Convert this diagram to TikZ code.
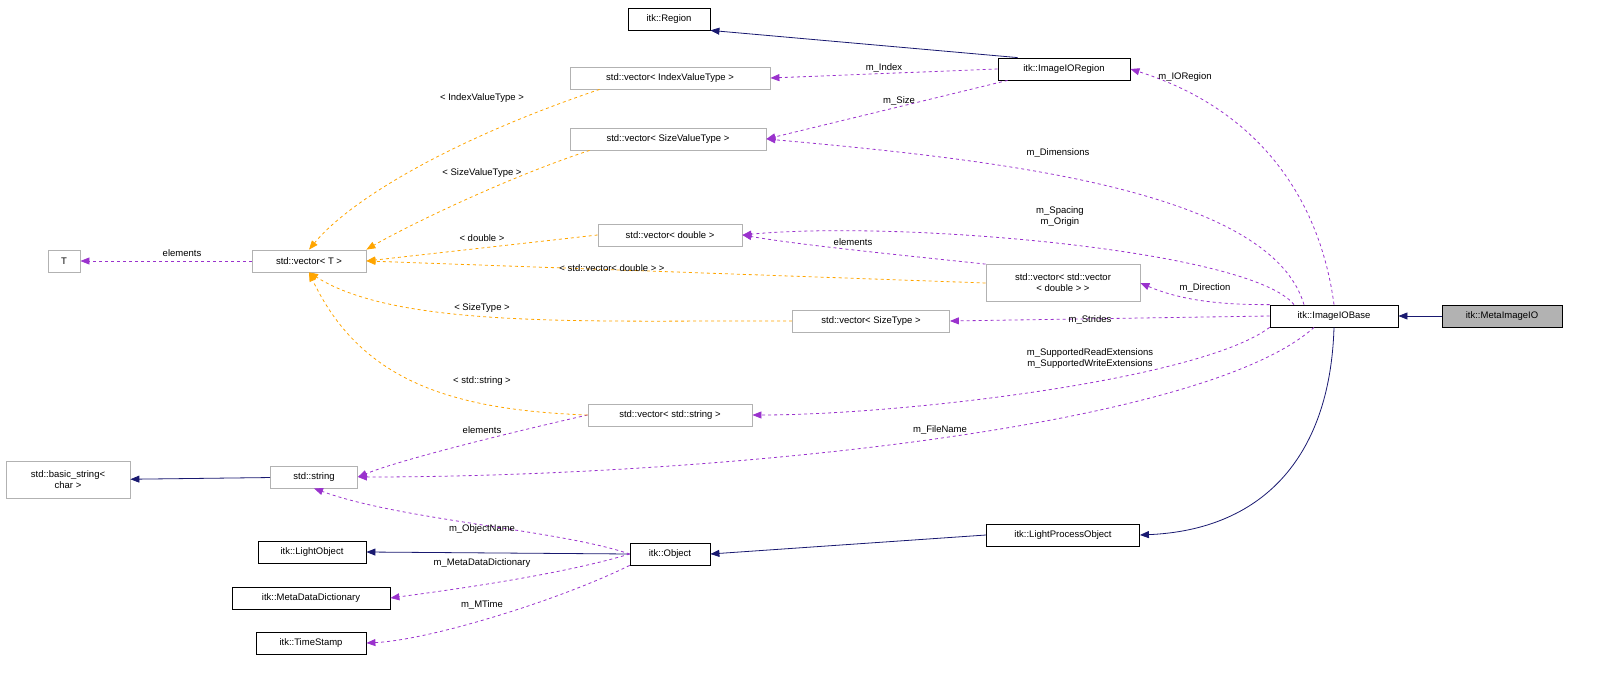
\documentclass[tikz,border=0pt]{standalone}
\usepackage{fontspec}
\setmainfont{Liberation Sans}
\usetikzlibrary{arrows.meta}
\definecolor{nv}{HTML}{191970}
\definecolor{pu}{HTML}{9A32CD}
\definecolor{or}{HTML}{FFA500}
\begin{document}
\begin{tikzpicture}[x=1pt,y=-1pt,font=\fontsize{9.5}{11}\selectfont,
 box/.style={draw=black,fill=white,inner sep=2pt,minimum height=22pt,align=center,line width=0.8pt},
 gbox/.style={box,draw=gray!60},
 lab/.style={inner sep=0pt,align=center},
 tip/.style={-{Triangle[length=9pt,width=7pt]}},
 inh/.style={tip,draw=nv,line width=0.8pt},
 use/.style={tip,draw=pu,dashed,line width=0.8pt},
 tpl/.style={tip,draw=or,dashed,line width=0.8pt}]
\useasboundingbox (0,0) rectangle (1601,679);
\node[box,minimum width=82pt] (region) at (669,19) {itk::Region};
\node[box,minimum width=132pt] (ioregion) at (1064,69) {itk::ImageIORegion};
\node[gbox,minimum width=200pt] (vidx) at (670,78) {std::vector< IndexValueType >};
\node[gbox,minimum width=196pt] (vsize) at (668,139) {std::vector< SizeValueType >};
\node[gbox,minimum width=32pt] (T) at (64,261) {T};
\node[gbox,minimum width=114pt] (vT) at (309,261) {std::vector< T >};
\node[gbox,minimum width=144pt] (vdbl) at (670,235) {std::vector< double >};
\node[gbox,minimum width=154pt,minimum height=37pt] (vvec) at (1063,283) {std::vector< std::vector\\< double > >};
\node[box,minimum width=128pt] (iobase) at (1334,316) {itk::ImageIOBase};
\node[box,minimum width=120pt,fill=gray!60] (meta) at (1502,316) {itk::MetaImageIO};
\node[gbox,minimum width=157pt] (vst) at (871,321) {std::vector< SizeType >};
\node[gbox,minimum width=164pt] (vstr) at (670,415) {std::vector< std::string >};
\node[gbox,minimum width=124pt,minimum height=37pt] (bstr) at (68,480) {std::basic\_string<\\char >};
\node[gbox,minimum width=87pt] (str) at (314,477) {std::string};
\node[box,minimum width=108pt] (lobj) at (312,552) {itk::LightObject};
\node[box,minimum width=80pt] (obj) at (670,554) {itk::Object};
\node[box,minimum width=153pt] (lpo) at (1063,535) {itk::LightProcessObject};
\node[box,minimum width=158pt] (mdd) at (311,598) {itk::MetaDataDictionary};
\node[box,minimum width=110pt] (ts) at (311,643) {itk::TimeStamp};
% inheritance
\draw[inh] (ioregion.north west) ++(20,0) -- (region.south east);
\draw[inh] (meta) -- (iobase);
\draw[inh] (iobase.south) .. controls (1330,460) and (1260,530) .. (lpo.east);
\draw[inh] (lpo.west) -- (obj.east);
\draw[inh] (obj.west) -- (lobj.east);
\draw[inh] (str) -- (bstr);
% usage
\draw[use] (ioregion.west) -- (vidx.east) node[lab,pos=.5,above=1pt] {m\_Index};
\draw[use] (ioregion.south west) ++(10,0) -- (vsize.east) node[lab,pos=.45,above=1pt] {m\_Size};
\draw[use] (iobase.north) .. controls (1320,200) and (1260,110) .. (ioregion.east);
\node[lab] (l1) at (1185,77) {m\_IORegion};
\draw[use] (iobase.north) ++(-30,0) .. controls (1270,190) and (1000,160) .. (vsize.east);
\node[lab] (l2) at (1058,153) {m\_Dimensions};
\draw[use] (iobase.north) ++(-40,0) .. controls (1250,250) and (900,220) .. (vdbl.east);
\node[lab] (l3) at (1060,217) {m\_Spacing\\m\_Origin};
\draw[use] (iobase.north west) .. controls (1220,305) and (1180,300) .. (vvec.east);
\node[lab] (l4) at (1205,288) {m\_Direction};
\draw[use] (iobase.west) -- (vst.east);
\node[lab] (l5) at (1090,320) {m\_Strides};
\draw[use] (iobase.south west) .. controls (1200,380) and (900,415) .. (vstr.east);
\node[lab] (l6) at (1090,359) {m\_SupportedReadExtensions\\m\_SupportedWriteExtensions};
\draw[use] (iobase.south) ++(-20,0) .. controls (1200,430) and (700,477) .. (str.east);
\node[lab] (l7) at (940,430) {m\_FileName};
\draw[use] (vvec.north west) .. controls (900,255) and (800,245) .. (vdbl.east);
\node[lab] (l8) at (853,242) {elements};
\draw[use] (vstr.west) .. controls (500,435) and (400,460) .. (str.east);
\node[lab] (l9) at (482,430) {elements};
\draw[use] (obj.west) .. controls (560,530) and (400,520) .. (str.south);
\node[lab] (l10) at (482,529) {m\_ObjectName};
\draw[use] (obj.west) .. controls (560,575) and (450,590) .. (mdd.east);
\node[lab] (l11) at (482,563) {m\_MetaDataDictionary};
\draw[use] (obj.south west) .. controls (560,600) and (430,640) .. (ts.east);
\node[lab] (l12) at (482,605) {m\_MTime};
\draw[use] (vT) -- (T);
\node[lab] (l13) at (182,253) {elements};
% templates
\draw[tpl] (vidx.south west) ++(30,0) .. controls (450,140) and (350,200) .. (vT.north);
\node[lab] (t1) at (482,98) {< IndexValueType >};
\draw[tpl] (vsize.south west) ++(20,0) .. controls (500,180) and (400,230) .. (vT.north east);
\node[lab] (t2) at (482,173) {< SizeValueType >};
\draw[tpl] (vdbl.west) -- (vT.east);
\node[lab] (t3) at (482,238) {< double >};
\draw[tpl] (vvec.west) -- (vT.east);
\node[lab] (t4) at (612,268) {< std::vector< double > >};
\draw[tpl] (vst.west) .. controls (600,320) and (400,330) .. (vT.south);
\node[lab] (t5) at (482,308) {< SizeType >};
\draw[tpl] (vstr.west) .. controls (450,410) and (360,380) .. (vT.south);
\node[lab] (t6) at (482,381) {< std::string >};
\end{tikzpicture}
\end{document}
